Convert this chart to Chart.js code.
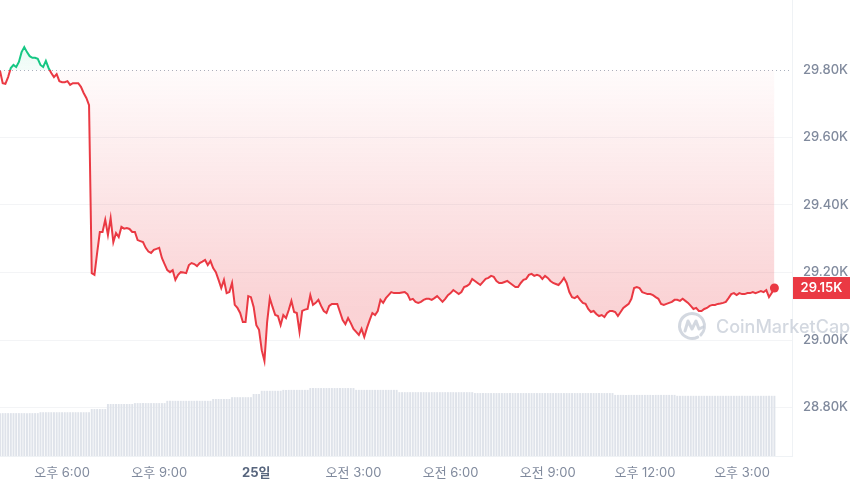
<!DOCTYPE html>
<html>
<head>
<meta charset="utf-8">
<script src="https://cdn.jsdelivr.net/npm/chart.js@4"></script>
<style>
    body { margin: 0; background: #fff; }
    #wrap { width: 860px; height: 487px; }
</style>
</head>
<body>
<div id="wrap"><canvas id="priceChart" width="860" height="487"></canvas></div>
<script>
// 5분 간격 가격 (16:05 ~ 다음날 16:00)
const startMinute = 965; // 24일 16:05, 자정 기준 분
const stepMinutes = 5;
const baseline = 29800; // 기준가 (점선)

const prices = [
    29798, 29761, 29759, 29779, 29806, 29815, 29809, 29824, 29853, 29868, 29853, 29841,
    29836, 29836, 29833, 29815, 29809, 29827, 29806, 29791, 29779, 29788, 29767, 29764,
    29764, 29767, 29756, 29761, 29761, 29761, 29750, 29732, 29717, 29696, 29198, 29193,
    29258, 29320, 29320, 29356, 29311, 29361, 29290, 29317, 29305, 29335, 29330, 29332,
    29329, 29320, 29320, 29296, 29293, 29290, 29273, 29262, 29258, 29267, 29270, 29273,
    29243, 29225, 29207, 29201, 29207, 29178, 29193, 29201, 29200, 29198, 29222, 29228,
    29225, 29219, 29228, 29232, 29237, 29222, 29234, 29213, 29201, 29178, 29154, 29178,
    29139, 29142, 29169, 29104, 29095, 29080, 29053, 29053, 29130, 29127, 29098, 29044,
    29030, 28970, 28938, 29053, 29124, 29098, 29074, 29071, 29044, 29074, 29065, 29089,
    29116, 29083, 29080, 29024, 29086, 29090, 29092, 29133, 29104, 29110, 29119, 29101,
    29086, 29080, 29101, 29107, 29107, 29107, 29083, 29059, 29047, 29065, 29050, 29033,
    29024, 29015, 29033, 29009, 29036, 29059, 29080, 29074, 29086, 29119, 29110, 29124,
    29133, 29142, 29139, 29139, 29139, 29141, 29142, 29136, 29119, 29122, 29113, 29110,
    29113, 29119, 29122, 29122, 29119, 29124, 29130, 29122, 29113, 29122, 29133, 29139,
    29148, 29142, 29136, 29142, 29157, 29160, 29166, 29181, 29175, 29169, 29163, 29172,
    29181, 29184, 29190, 29187, 29175, 29169, 29169, 29172, 29175, 29169, 29163, 29157,
    29157, 29169, 29178, 29181, 29193, 29196, 29190, 29193, 29190, 29181, 29190, 29184,
    29175, 29169, 29166, 29163, 29172, 29184, 29169, 29142, 29127, 29124, 29130, 29119,
    29110, 29107, 29092, 29083, 29086, 29077, 29071, 29074, 29068, 29080, 29086, 29086,
    29083, 29071, 29083, 29095, 29101, 29107, 29122, 29154, 29157, 29154, 29142, 29139,
    29136, 29136, 29133, 29127, 29122, 29107, 29104, 29107, 29110, 29113, 29119, 29119,
    29116, 29122, 29116, 29110, 29101, 29092, 29095, 29086, 29086, 29092, 29095, 29101,
    29104, 29104, 29107, 29108, 29110, 29113, 29124, 29136, 29139, 29133, 29139, 29136,
    29136, 29139, 29139, 29142, 29139, 29142, 29145, 29142, 29148, 29127, 29139, 29154
];

// 거래량 (십억 달러, 24시간 누적)
const volumes = [
    9.4, 9.4, 9.4, 9.4, 9.4, 9.4, 9.4, 9.4, 9.4, 9.4, 9.4, 9.4,
    9.4, 9.4, 9.4, 9.6, 9.6, 9.6, 9.6, 9.6, 9.6, 9.6, 9.6, 9.6,
    9.6, 9.6, 9.6, 9.6, 9.6, 9.6, 9.6, 9.6, 9.6, 9.6, 10.3, 10.3,
    10.3, 10.3, 10.3, 10.3, 11.4, 11.4, 11.4, 11.4, 11.4, 11.4, 11.4, 11.4,
    11.4, 11.4, 11.6, 11.6, 11.6, 11.6, 11.6, 11.6, 11.6, 11.6, 11.6, 11.6,
    11.6, 11.6, 12.1, 12.1, 12.1, 12.1, 12.1, 12.1, 12.1, 12.1, 12.1, 12.1,
    12.1, 12.1, 12.1, 12.1, 12.1, 12.1, 12.1, 12.5, 12.5, 12.5, 12.5, 12.5,
    12.5, 12.5, 12.9, 12.9, 12.9, 12.9, 12.9, 12.9, 12.9, 12.9, 13.6, 13.6,
    13.6, 14.3, 14.3, 14.3, 14.3, 14.3, 14.3, 14.3, 14.3, 14.5, 14.5, 14.5,
    14.5, 14.5, 14.5, 14.5, 14.5, 14.5, 14.5, 14.9, 14.9, 14.9, 14.9, 14.9,
    14.9, 14.9, 14.9, 14.9, 14.9, 14.9, 14.9, 14.9, 14.9, 14.9, 14.9, 14.9,
    14.5, 14.5, 14.5, 14.5, 14.5, 14.5, 14.5, 14.5, 14.5, 14.5, 14.5, 14.5,
    14.5, 14.5, 14.5, 14.5, 14.0, 14.0, 14.0, 14.0, 14.0, 14.0, 14.0, 14.0,
    14.0, 14.0, 14.0, 14.0, 14.0, 14.0, 14.0, 14.0, 14.0, 14.0, 14.0, 14.0,
    14.0, 14.0, 14.0, 14.0, 14.0, 14.0, 14.0, 14.0, 13.8, 13.8, 13.8, 13.8,
    13.8, 13.8, 13.8, 13.8, 13.8, 13.8, 13.8, 13.8, 13.8, 13.8, 13.8, 13.8,
    13.8, 13.8, 13.8, 13.8, 13.8, 13.8, 13.8, 13.8, 13.8, 13.8, 13.8, 13.8,
    13.8, 13.8, 13.8, 13.8, 13.8, 13.8, 13.8, 13.8, 13.8, 13.8, 13.8, 13.8,
    13.8, 13.8, 13.8, 13.8, 13.8, 13.8, 13.8, 13.8, 13.8, 13.8, 13.8, 13.8,
    13.4, 13.4, 13.4, 13.4, 13.4, 13.4, 13.4, 13.4, 13.4, 13.4, 13.4, 13.4,
    13.4, 13.4, 13.4, 13.4, 13.4, 13.4, 13.4, 13.4, 13.4, 13.4, 13.4, 13.2,
    13.2, 13.2, 13.2, 13.2, 13.2, 13.2, 13.2, 13.2, 13.2, 13.2, 13.2, 13.2,
    13.2, 13.2, 13.2, 13.2, 13.2, 13.2, 13.2, 13.2, 13.2, 13.2, 13.2, 13.2,
    13.2, 13.2, 13.2, 13.2, 13.2, 13.2, 13.2, 13.2, 13.2, 13.2, 13.2, 13.2
];

// x축 눈금 (자정 기준 분) 과 라벨
const tickMinutes = [1080, 1260, 1440, 1620, 1800, 1980, 2160, 2340];
const tickLabels = ['오후 6:00', '오후 9:00', '25일', '오전 3:00', '오전 6:00', '오전 9:00', '오후 12:00', '오후 3:00'];
const dayTick = 1440;

// y축 눈금
const priceTicks = [28800, 29000, 29200, 29400, 29600, 29800];

const GREEN = '#16c784';
const RED = '#ea3943';
const GRAY = '#808a9d';

const times = prices.map((p, i) => startMinute + i * stepMinutes);
const pricePoints = prices.map((p, i) => ({ x: times[i], y: p }));
const volumePoints = volumes.map((v, i) => ({ x: times[i], y: v }));

Chart.defaults.font.family = 'Inter, "Noto Sans CJK KR", sans-serif';
Chart.defaults.font.size = 13;
Chart.defaults.color = GRAY;

function baselineStop(chart) {
    const a = chart.chartArea;
    const by = chart.scales.y.getPixelForValue(baseline);
    return Math.min(Math.max((by - a.top) / (a.bottom - a.top), 0), 1);
}

function lineColor(context) {
    const chart = context.chart;
    if (!chart.chartArea) return RED;
    const a = chart.chartArea;
    const p = baselineStop(chart);
    const g = chart.ctx.createLinearGradient(0, a.top, 0, a.bottom);
    g.addColorStop(0, GREEN);
    g.addColorStop(p, GREEN);
    g.addColorStop(p, RED);
    g.addColorStop(1, RED);
    return g;
}

function fillColor(context) {
    const chart = context.chart;
    if (!chart.chartArea) return 'rgba(234,57,67,0.1)';
    const a = chart.chartArea;
    const p = baselineStop(chart);
    const g = chart.ctx.createLinearGradient(0, a.top, 0, a.bottom);
    g.addColorStop(0, 'rgba(22,199,132,0.16)');
    g.addColorStop(p, 'rgba(22,199,132,0.05)');
    g.addColorStop(p, 'rgba(234,57,67,0.02)');
    g.addColorStop(Math.min(p + 0.5, 1), 'rgba(234,57,67,0.22)');
    g.addColorStop(1, 'rgba(234,57,67,0.26)');
    return g;
}

// 워터마크, 기준 점선, 현재가 라벨
const overlayPlugin = {
    id: 'overlay',
    beforeDatasetsDraw(chart) {
        const { ctx, chartArea: a } = chart;
        const by = Math.round(chart.scales.y.getPixelForValue(baseline)) + 0.5;
        ctx.save();

        // CoinMarketCap 워터마크
        const cx = a.right - 100, cy = a.bottom - 130;
        ctx.strokeStyle = 'rgba(196,203,214,0.75)';
        ctx.lineWidth = 3;
        ctx.lineCap = 'round';
        ctx.lineJoin = 'round';
        ctx.beginPath();
        ctx.arc(cx, cy, 12.5, Math.PI * 0.35, Math.PI * 2.25);
        ctx.stroke();
        ctx.beginPath();
        ctx.moveTo(cx - 7, cy + 5);
        ctx.lineTo(cx - 4, cy - 5);
        ctx.lineTo(cx, cy + 3);
        ctx.lineTo(cx + 4, cy - 5);
        ctx.lineTo(cx + 7, cy + 3);
        ctx.lineTo(cx + 11, cy + 1);
        ctx.stroke();
        ctx.fillStyle = 'rgba(196,203,214,0.75)';
        ctx.font = '500 18px Inter, sans-serif';
        ctx.textBaseline = 'alphabetic';
        ctx.fillText('CoinMarketCap', cx + 24, cy + 7);

        // 기준가 점선
        ctx.strokeStyle = '#aab1bd';
        ctx.lineWidth = 1;
        ctx.lineCap = 'butt';
        ctx.setLineDash([1, 3]);
        ctx.beginPath();
        ctx.moveTo(a.left, by);
        ctx.lineTo(a.right, by);
        ctx.stroke();
        ctx.restore();
    },
    afterDraw(chart) {
        const { ctx, chartArea: a } = chart;
        const last = prices[prices.length - 1];
        const py = chart.scales.y.getPixelForValue(last);
        ctx.save();
        ctx.fillStyle = RED;
        ctx.fillRect(a.right + 1, py - 11, 57, 22);
        ctx.fillStyle = '#fff';
        ctx.font = '600 13px Inter, sans-serif';
        ctx.textAlign = 'center';
        ctx.textBaseline = 'middle';
        ctx.fillText((last / 1000).toFixed(2) + 'K', a.right + 29.5, py + 0.5);
        ctx.restore();
    }
};

const ctx = document.getElementById('priceChart').getContext('2d');
new Chart(ctx, {
    type: 'line',
    data: {
        datasets: [
            {
                type: 'line',
                label: 'Price',
                data: pricePoints,
                yAxisID: 'y',
                borderColor: lineColor,
                backgroundColor: fillColor,
                borderWidth: 2,
                tension: 0,
                fill: { value: baseline },
                pointRadius: (c) => c.dataIndex === prices.length - 1 ? 4.5 : 0,
                pointBackgroundColor: RED,
                pointBorderWidth: 0,
                order: 0
            },
            {
                type: 'bar',
                label: 'Volume',
                data: volumePoints,
                yAxisID: 'yv',
                backgroundColor: '#dfe3ea',
                barPercentage: 0.72,
                categoryPercentage: 1,
                order: 1
            }
        ]
    },
    options: {
        responsive: false,
        animation: false,
        layout: { padding: 0, autoPadding: false },
        plugins: {
            legend: { display: false },
            tooltip: { enabled: false }
        },
        scales: {
            x: {
                type: 'linear',
                offset: false,
                min: startMinute,
                max: 2432.6,
                grid: { display: false, drawTicks: false },
                border: { display: true, color: '#eff2f5' },
                afterBuildTicks: (scale) => {
                    scale.ticks = tickMinutes.map(v => ({ value: v }));
                },
                afterFit: (scale) => {
                    scale.height = 31;
                    scale.paddingLeft = 0;
                    scale.paddingRight = 0;
                },
                ticks: {
                    autoSkip: false,
                    maxRotation: 0,
                    padding: 9,
                    color: (c) => c.tick && c.tick.value === dayTick ? '#58667e' : GRAY,
                    font: (c) => ({ size: 13, weight: c.tick && c.tick.value === dayTick ? 'bold' : 'normal' }),
                    callback: (v) => tickLabels[tickMinutes.indexOf(v)]
                }
            },
            y: {
                position: 'right',
                min: 28656.3,
                max: 30007.4,
                grid: {
                    drawTicks: false,
                    color: (c) => c.tick && c.tick.value === baseline ? 'rgba(0,0,0,0)' : '#f3f4f6'
                },
                border: { display: true, color: '#eff2f5' },
                afterBuildTicks: (scale) => {
                    scale.ticks = priceTicks.map(v => ({ value: v }));
                },
                afterFit: (scale) => {
                    scale.width = 68;
                    scale.paddingTop = 0;
                    scale.paddingBottom = 0;
                },
                ticks: {
                    padding: 11,
                    color: GRAY,
                    font: { size: 13, weight: '500' },
                    callback: (v) => (v / 1000).toFixed(2) + 'K'
                }
            },
            yv: {
                display: false,
                min: 0,
                max: 100
            }
        }
    },
    plugins: [overlayPlugin]
});
</script>
</body>
</html>
